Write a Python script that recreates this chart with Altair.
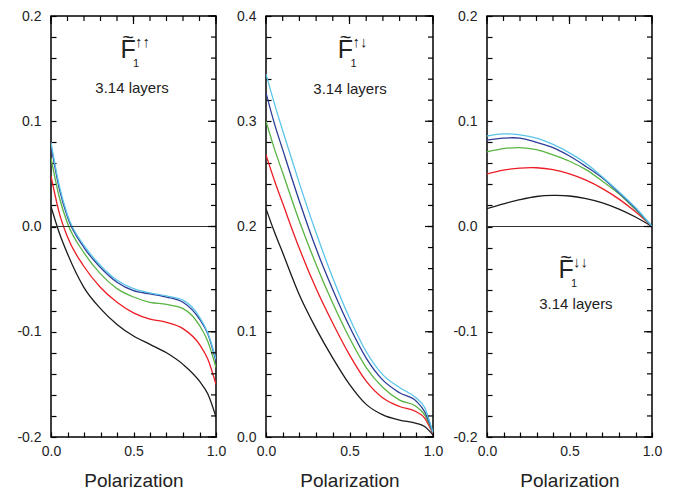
import altair as alt
import pandas as pd

# ---------------- data ----------------
SERIES = ["a", "b", "c", "d", "e"]
COLORS = ["#1a1a1a", "#ec1c24", "#58b443", "#2c3d97", "#5bc5e9"]

X_P12 = [0.0, 0.05, 0.1, 0.2, 0.3, 0.4, 0.5, 0.6, 0.7, 0.8, 0.9, 0.95, 1.0]
X_P3 = [0.0, 0.1, 0.2, 0.3, 0.4, 0.5, 0.6, 0.7, 0.8, 0.9, 1.0]

# panel 1: F1 up-up
P1 = {
    "a": [0.019, -0.006, -0.026, -0.058, -0.078, -0.093, -0.104, -0.112, -0.120, -0.131, -0.147, -0.159, -0.181],
    "b": [0.048, 0.013, -0.010, -0.038, -0.058, -0.072, -0.082, -0.088, -0.091, -0.097, -0.112, -0.126, -0.150],
    "c": [0.065, 0.028, 0.003, -0.025, -0.045, -0.059, -0.067, -0.072, -0.074, -0.078, -0.094, -0.109, -0.134],
    "d": [0.077, 0.036, 0.009, -0.020, -0.039, -0.053, -0.061, -0.064, -0.067, -0.072, -0.088, -0.102, -0.128],
    "e": [0.080, 0.039, 0.011, -0.018, -0.037, -0.051, -0.059, -0.063, -0.066, -0.070, -0.086, -0.101, -0.126],
}
# panel 2: F1 up-down
P2 = {
    "a": [0.217, 0.195, 0.175, 0.135, 0.103, 0.075, 0.050, 0.031, 0.021, 0.016, 0.013, 0.010, 0.002],
    "b": [0.268, 0.244, 0.222, 0.179, 0.141, 0.108, 0.078, 0.053, 0.037, 0.029, 0.024, 0.018, 0.003],
    "c": [0.300, 0.274, 0.251, 0.205, 0.164, 0.127, 0.094, 0.066, 0.047, 0.035, 0.029, 0.021, 0.004],
    "d": [0.327, 0.298, 0.273, 0.224, 0.179, 0.140, 0.105, 0.075, 0.054, 0.042, 0.034, 0.024, 0.004],
    "e": [0.345, 0.317, 0.291, 0.241, 0.194, 0.151, 0.113, 0.081, 0.059, 0.047, 0.037, 0.028, 0.004],
}
# panel 3: F1 down-down
P3 = {
    "a": [0.017, 0.0215, 0.0255, 0.0285, 0.0295, 0.029, 0.0265, 0.0225, 0.0165, 0.009, 0.0],
    "b": [0.050, 0.0535, 0.0555, 0.0558, 0.054, 0.050, 0.044, 0.036, 0.026, 0.014, 0.0],
    "c": [0.071, 0.074, 0.075, 0.073, 0.068, 0.062, 0.054, 0.043, 0.031, 0.016, 0.0],
    "d": [0.082, 0.084, 0.084, 0.080, 0.075, 0.067, 0.057, 0.046, 0.032, 0.017, 0.0],
    "e": [0.086, 0.088, 0.087, 0.084, 0.078, 0.070, 0.060, 0.047, 0.033, 0.018, 0.0],
}

ARROWS = ["\u2191\u2191", "\u2191\u2193", "\u2193\u2193"]
CAPTION = "3.14 layers"
# annotation anchors (data coords): F symbol and caption
F_ANCHOR = [(0.467, 0.160), (0.476, 0.360), (0.479, -0.049)]
CAP_ANCHOR = [(0.491, 0.127), (0.503, 0.326), (0.539, -0.078)]

Y_DOMAINS = [[-0.2, 0.2], [0.0, 0.4], [-0.2, 0.2]]
Y_MAJOR = [[-0.2, -0.1, 0.0, 0.1, 0.2], [0.0, 0.1, 0.2, 0.3, 0.4], [-0.2, -0.1, 0.0, 0.1, 0.2]]
Y_MINOR = [
    [round(-0.2 + 0.02 * i, 2) for i in range(21)],
    [round(0.0 + 0.02 * i, 2) for i in range(21)],
    [round(-0.2 + 0.02 * i, 2) for i in range(21)],
]
X_DOMAIN = [0.0, 1.0]
X_MAJOR = [0.0, 0.5, 1.0]
X_MINOR = [round(0.1 * i, 1) for i in range(11)]
ZERO_LINE = [True, False, True]
INTERP = ["monotone", "monotone", "catmull-rom"]

FONT = "Liberation Sans"
W = [165, 167, 165]
H = 421
MINOR_LEN = 5
MAJOR_LEN = 8


def make_df(xs, d):
    rows = []
    for s in SERIES:
        for x, y in zip(xs, d[s]):
            rows.append({"x": x, "y": y, "series": s})
    return pd.DataFrame(rows)


def panel(i, df):
    w = W[i]
    xs = alt.Scale(domain=X_DOMAIN, nice=False, zero=False)
    ys = alt.Scale(domain=Y_DOMAINS[i], nice=False, zero=False)
    # one identical axis definition shared by every layer; inward ticks via expr
    x_axis = alt.Axis(
        values=X_MINOR,
        labelExpr="(datum.value == 0 || datum.value == 0.5 || datum.value == 1) ? format(datum.value, '.1f') : ''",
        ticks=True, tickSize={"expr": "-5"}, tickColor="#000", tickWidth=1.2,
        domain=False, grid=False, labelOverlap=False,
        labelFlush=False, labelPadding=12, title="Polarization", titlePadding=13)
    y_axis = alt.Axis(
        values=Y_MINOR[i],
        labelExpr="abs(datum.value * 10 - round(datum.value * 10)) < 0.001 ? "
                  "replace(format(datum.value, '.1f'), '\u2212', '-') : ''",
        ticks=True, tickSize={"expr": "-5"}, tickColor="#000", tickWidth=1.2,
        domain=False, grid=False, labelOverlap=False, labelFlush=False,
        labelPadding=15, title=None)

    def X(field):
        return alt.X(field, scale=xs, axis=x_axis)

    def Y(field):
        return alt.Y(field, scale=ys, axis=y_axis)

    lines = alt.Chart(df).mark_line(interpolate=INTERP[i], strokeWidth=1.3, clip=True).encode(
        x=X("x:Q"), y=Y("y:Q"),
        color=alt.Color("series:N", scale=alt.Scale(domain=SERIES, range=COLORS), legend=None),
        order=alt.Order("x:Q"),
    )

    tick_style = dict(color="#000", strokeWidth=1.2)

    def yticks(vals, length):
        d = alt.Chart(pd.DataFrame({"v": vals}))
        right = d.mark_rule(**tick_style).encode(
            y=Y("v:Q"), x=alt.value(w), x2=alt.value(w - length))
        return [right]

    def xticks(vals, length):
        d = alt.Chart(pd.DataFrame({"v": vals}))
        top = d.mark_rule(**tick_style).encode(
            x=X("v:Q"), y=alt.value(0), y2=alt.value(length))
        return [top]

    layers = [lines]
    if ZERO_LINE[i]:
        zero = alt.Chart(pd.DataFrame({"y": [0.0]})).mark_rule(color="#333", strokeWidth=1).encode(
            y=Y("y:Q"))
        layers.append(zero)
    layers += yticks(Y_MINOR[i], MINOR_LEN)
    layers += yticks(Y_MAJOR[i], MAJOR_LEN)
    layers += xticks(X_MINOR, MINOR_LEN)
    layers += xticks(X_MAJOR, MAJOR_LEN)

    fx, fy = F_ANCHOR[i]
    cx, cy = CAP_ANCHOR[i]
    fdf = pd.DataFrame({"x": [fx], "y": [fy]})
    cdf = pd.DataFrame({"x": [cx], "y": [cy]})

    def txt(dfa, text, size, dx=0, dy=0, align="center"):
        return alt.Chart(dfa).mark_text(
            text=text, font=FONT, fontSize=size, dx=dx, dy=dy, align=align,
            baseline="alphabetic", fill="#222", color="#222").encode(
            x=X("x:Q"), y=Y("y:Q"))

    layers += [
        txt(fdf, "F", 25),
        txt(fdf, "~", 20, dy=-14),
        txt(fdf, ARROWS[i], 15, dx=7, dy=-11, align="left"),
        txt(fdf, "1", 11, dx=8, dy=9),
        txt(cdf, CAPTION, 15),
    ]

    return alt.layer(*layers).resolve_scale(x="shared", y="shared").properties(width=w, height=H)


dfs = [make_df(X_P12, P1), make_df(X_P12, P2), make_df(X_P3, P3)]
chart = alt.hconcat(*[panel(i, d) for i, d in enumerate(dfs)], spacing=8).properties(
    padding={"left": 16, "top": 8, "right": 5, "bottom": 5}
).configure_view(stroke="#000", strokeWidth=1.5).configure_axis(
    labelFont=FONT, labelFontSize=14, labelColor="#222",
    titleFont=FONT, titleFontSize=19, titleFontWeight="normal", titleColor="#222",
)

chart.save("out.html", embed_options={"renderer": "svg", "actions": False})
